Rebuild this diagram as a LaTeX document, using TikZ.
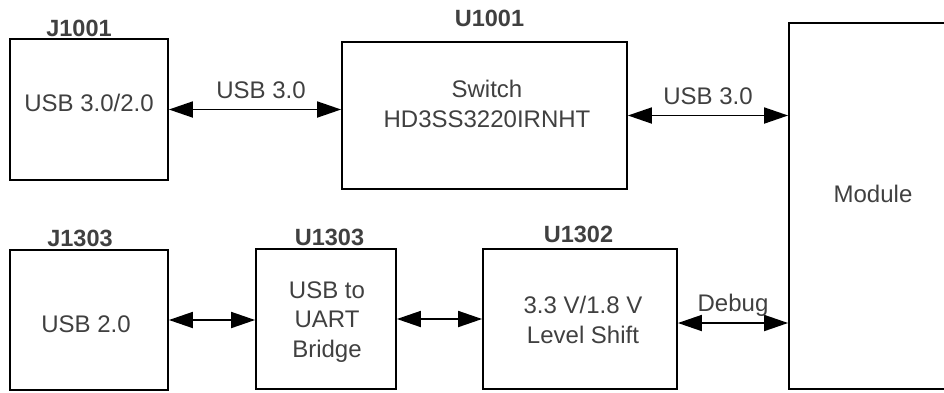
\documentclass[tikz,border=0pt]{standalone}
\usepackage{fontspec}
\setmainfont{Liberation Sans}
\usetikzlibrary{arrows.meta,calc}
\definecolor{txtgray}{HTML}{404040}
\tikzset{
  blk/.style={draw, line width=1.8pt, inner sep=0pt},
  txt/.style={anchor=base, inner sep=0pt, align=center, text=txtgray,
    font=\fontsize{24}{29.5}\selectfont},
  ref/.style={anchor=base, inner sep=0pt, text=txtgray,
    font=\fontsize{23.5}{28}\selectfont\bfseries},
  bus/.style={line width=1.8pt,
    {Triangle[length=24pt,width=16pt]}-{Triangle[length=24pt,width=16pt]}},
  buslbl/.style={inner sep=0pt, text=txtgray, font=\fontsize{24}{28}\selectfont}
}
\begin{document}
\begin{tikzpicture}[x=1pt, y=-1pt]
    \useasboundingbox (0,0) rectangle (944,392);
    % 1. Khối hàng trên
    \node[blk, minimum width=158pt, minimum height=141pt] (j1001) at (89,109.5) {};
    \node[blk, minimum width=285pt, minimum height=147pt] (u1001) at (484.5,115.5) {};
    \node[blk, minimum width=168pt, minimum height=366pt] (module) at (873,206) {};
    \node[txt] (tj1001) at (89,111) {USB 3.0/2.0};
    \node[txt] (tu1001) at (487,127) {Switch\\HD3SS3220IRNHT};
    \node[txt] (tmodule) at (873,202) {Module};

    % 2. Khối hàng dưới
    \node[blk, minimum width=158pt, minimum height=140pt] (j1303) at (89,320) {};
    \node[blk, minimum width=140pt, minimum height=140pt] (u1303) at (326,319) {};
    \node[blk, minimum width=194pt, minimum height=140pt] (u1302) at (580,319) {};
    \node[txt] (tj1303) at (86,332) {USB 2.0};
    \node[txt] (tu1303) at (327,357) {USB to\\UART\\Bridge};
    \node[txt] (tu1302) at (583,343) {3.3 V/1.8 V\\Level Shift};

    % 3. Tên linh kiện
    \node[ref] (lj1001) at (79,36) {J1001};
    \node[ref] (lu1001) at (489.5,26) {U1001};
    \node[ref] (lj1303) at (80,246) {J1303};
    \node[ref] (lu1303) at (329.5,245) {U1303};
    \node[ref] (lu1302) at (578.5,242) {U1302};

    % 4. Các đường nối
    \draw[bus] (j1001.east) -- (j1001.east -| u1001.west)
        node[buslbl, midway, above=10pt, xshift=6pt] {USB 3.0};
    \draw[bus] (u1001.east) -- (u1001.east -| module.west)
        node[buslbl, midway, above=10pt] {USB 3.0};
    \draw[bus] (j1303.east) -- (j1303.east -| u1303.west);
    \draw[bus] (u1303.east) -- (u1303.east -| u1302.west);
    \draw[bus] ($(u1302.east)+(0,4)$) -- ($(u1302.east -| module.west)+(0,4)$)
        node[buslbl, midway, above=6pt] {Debug};
\end{tikzpicture}
\end{document}
